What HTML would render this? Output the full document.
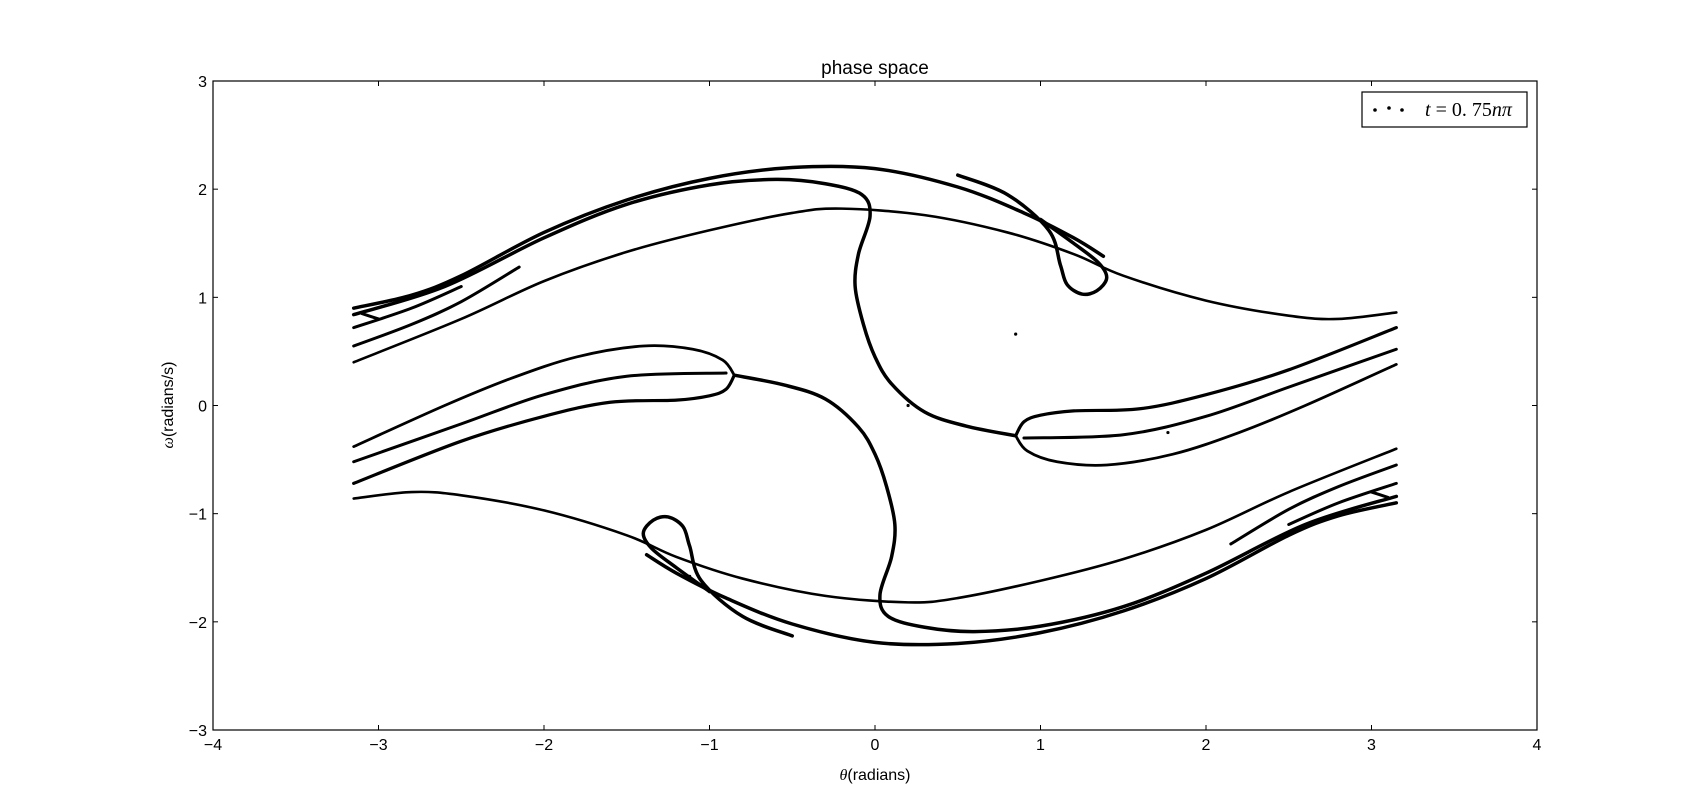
<!DOCTYPE html>
<html><head><meta charset="utf-8"><style>
body{margin:0;background:#fff;}
svg{display:block;font-family:"Liberation Sans","DejaVu Sans",sans-serif;}
</style></head><body>
<svg id="chart" width="1707" height="811" viewBox="0 0 1707 811" xmlns="http://www.w3.org/2000/svg">
<rect width="1707" height="811" fill="#fff"/>
<text x="875" y="74" text-anchor="middle" font-size="19">phase space</text>
<g id="plot"></g>
<rect x="213" y="81" width="1324" height="649" fill="none" stroke="#000" stroke-width="1.2"/>
<g id="ticks"></g>
<text x="875" y="780" text-anchor="middle" font-size="16"><tspan font-family="Liberation Serif, serif" font-style="italic">θ</tspan>(radians)</text>
<text transform="translate(173,405) rotate(-90)" text-anchor="middle" font-size="16"><tspan font-family="Liberation Serif, serif" font-style="italic">ω</tspan>(radians/s)</text>
<g>
<rect x="1362" y="92" width="165" height="35" fill="#fff" stroke="#000" stroke-width="1.2"/>
<circle cx="1375" cy="110" r="1.8" fill="#000"/><circle cx="1389" cy="108" r="1.8" fill="#000"/><circle cx="1402" cy="110" r="1.8" fill="#000"/>
<text x="1425" y="116" font-family="Liberation Serif, serif" font-size="20"><tspan font-style="italic">t</tspan> = 0. 75<tspan font-style="italic">nπ</tspan></text>
</g>
</svg>
<script>
const xTicks=[-4,-3,-2,-1,0,1,2,3,4];
const yTicks=[-3,-2,-1,0,1,2,3];
// upper-half curves [theta, omega]
const curveOuterTop=[[-3.15,0.9],[-2.8,1.02],[-2.5,1.2],[-2,1.6],[-1.5,1.9],[-1,2.1],[-0.5,2.2],[0,2.19],[0.5,2.02],[0.9,1.78],[1.2,1.55],[1.38,1.38]];
const curveSTop=[[-3.15,0.84],[-2.6,1.1],[-2,1.55],[-1.5,1.86],[-1,2.04],[-0.6,2.09],[-0.3,2.05],[-0.08,1.95],[-0.03,1.75],[-0.1,1.4],[-0.12,1.1],[-0.07,0.75],[0.0,0.45],[0.1,0.2],[0.3,-0.06],[0.55,-0.19],[0.85,-0.28]];
const curveHookMid=[[0.85,-0.28],[0.9,-0.15],[1.0,-0.09],[1.2,-0.05],[1.6,-0.03],[2,0.1],[2.5,0.33],[3.15,0.72]];
const curveHookLow=[[0.85,-0.28],[0.92,-0.42],[1.1,-0.52],[1.4,-0.55],[1.8,-0.45],[2.2,-0.25],[2.6,0.0],[3.15,0.38]];
const curveHookInner=[[0.9,-0.3],[1.5,-0.27],[2,-0.1],[2.5,0.17],[3.15,0.52]];
const curveMidTop=[[-3.15,0.4],[-2.5,0.8],[-2,1.15],[-1.5,1.42],[-1,1.62],[-0.5,1.78],[-0.2,1.82],[0.3,1.76],[0.8,1.6],[1.2,1.4],[1.5,1.2],[2,0.97],[2.5,0.83],[2.8,0.8],[3.15,0.86]];
const curveLoopTop=[[0.5,2.13],[0.8,1.95],[1.05,1.62],[1.12,1.3],[1.16,1.12],[1.25,1.03],[1.34,1.06],[1.4,1.18],[1.35,1.32],[1.2,1.5],[1.0,1.72]];
const curveWedgeA=[[-3.15,0.72],[-2.8,0.9],[-2.5,1.1]];
const curveWedgeB=[[-3.15,0.55],[-2.8,0.75],[-2.5,0.96],[-2.15,1.28]];
const curveWedgeC=[[-3.1,0.85],[-3.0,0.8]];
// lower-half curves
const curveOuterBot=[[3.15,-0.9],[2.8,-1.02],[2.5,-1.2],[2,-1.6],[1.5,-1.9],[1,-2.1],[0.5,-2.2],[0,-2.19],[-0.5,-2.02],[-0.9,-1.78],[-1.2,-1.55],[-1.38,-1.38]];
const curveSBot=[[3.15,-0.84],[2.6,-1.1],[2,-1.55],[1.5,-1.86],[1,-2.04],[0.6,-2.09],[0.3,-2.05],[0.08,-1.95],[0.03,-1.75],[0.1,-1.4],[0.12,-1.1],[0.07,-0.75],[0.0,-0.45],[-0.1,-0.2],[-0.3,0.06],[-0.55,0.19],[-0.85,0.28]];
const curveHookMidB=[[-0.85,0.28],[-0.9,0.15],[-1.0,0.09],[-1.2,0.05],[-1.6,0.03],[-2,-0.1],[-2.5,-0.33],[-3.15,-0.72]];
const curveHookLowB=[[-0.85,0.28],[-0.92,0.42],[-1.1,0.52],[-1.4,0.55],[-1.8,0.45],[-2.2,0.25],[-2.6,0.0],[-3.15,-0.38]];
const curveHookInnerB=[[-0.9,0.3],[-1.5,0.27],[-2,0.1],[-2.5,-0.17],[-3.15,-0.52]];
const curveMidBot=[[3.15,-0.4],[2.5,-0.8],[2,-1.15],[1.5,-1.42],[1,-1.62],[0.5,-1.78],[0.2,-1.82],[-0.3,-1.76],[-0.8,-1.6],[-1.2,-1.4],[-1.5,-1.2],[-2,-0.97],[-2.5,-0.83],[-2.8,-0.8],[-3.15,-0.86]];
const curveLoopBot=[[-0.5,-2.13],[-0.8,-1.95],[-1.05,-1.62],[-1.12,-1.3],[-1.16,-1.12],[-1.25,-1.03],[-1.34,-1.06],[-1.4,-1.18],[-1.35,-1.32],[-1.2,-1.5],[-1.0,-1.72]];
const curveWedgeD=[[3.15,-0.72],[2.8,-0.9],[2.5,-1.1]];
const curveWedgeE=[[3.15,-0.55],[2.8,-0.75],[2.5,-0.96],[2.15,-1.28]];
const curveWedgeF=[[3.1,-0.85],[3.0,-0.8]];
const strayPoints=[[0.85,0.66],[1.77,-0.25],[-1.12,-1.58],[0.2,0.0]];

const X0=213,X1=1537,Y0=81,Y1=730;
function sx(v){return X0+(v+4)/8*(X1-X0);}
function sy(v){return Y1-(v+3)/6*(Y1-Y0);}
const NS="http://www.w3.org/2000/svg";
const plot=document.getElementById('plot');
function pathD(pts){
  const p=pts.map(q=>[sx(q[0]),sy(q[1])]);
  let d='M'+p[0][0]+','+p[0][1];
  for(let i=0;i<p.length-1;i++){
    const a=p[Math.max(i-1,0)],b=p[i],c=p[i+1],e=p[Math.min(i+2,p.length-1)];
    const c1=[b[0]+(c[0]-a[0])/6,b[1]+(c[1]-a[1])/6],c2=[c[0]-(e[0]-b[0])/6,c[1]-(e[1]-b[1])/6];
    d+=' C'+c1[0]+','+c1[1]+' '+c2[0]+','+c2[1]+' '+c[0]+','+c[1];
  }
  return d;
}
function draw(pts,w,name){
  const el=document.createElementNS(NS,'path');
  el.setAttribute('d',pathD(pts));
  el.setAttribute('fill','none');el.setAttribute('stroke','#000');
  el.setAttribute('stroke-width',w);el.setAttribute('stroke-linecap','round');el.setAttribute('stroke-linejoin','round');
  
  
  plot.appendChild(el);
}
draw(curveOuterTop,3.5,'curve-outer-top');draw(curveOuterBot,3.5,'curve-outer-bottom');
draw(curveSTop,3.5,'curve-s-top');draw(curveSBot,3.5,'curve-s-bottom');
draw(curveHookMid,3.2,'curve-hook-mid');draw(curveHookMidB,3.2,'curve-hook-mid-b');
draw(curveHookLow,2.8,'curve-hook-low');draw(curveHookLowB,2.8,'curve-hook-low-b');
draw(curveHookInner,3,'curve-hook-inner');draw(curveHookInnerB,3,'curve-hook-inner-b');
draw(curveMidTop,2.6,'curve-mid-top');draw(curveMidBot,2.6,'curve-mid-bottom');
draw(curveLoopTop,3.5,'curve-loop-top');draw(curveLoopBot,3.5,'curve-loop-bottom');
draw(curveWedgeA,3,'wedge-a');draw(curveWedgeB,3,'wedge-b');draw(curveWedgeC,3,'wedge-c');
draw(curveWedgeD,3,'wedge-d');draw(curveWedgeE,3,'wedge-e');draw(curveWedgeF,3,'wedge-f');
strayPoints.forEach(p=>{
  const c=document.createElementNS(NS,'circle');
  c.setAttribute('cx',sx(p[0]));c.setAttribute('cy',sy(p[1]));c.setAttribute('r',1.6);
  
  
  plot.appendChild(c);
});
const tg=document.getElementById('ticks');
function line(x1,y1,x2,y2){const l=document.createElementNS(NS,'line');l.setAttribute('x1',x1);l.setAttribute('y1',y1);l.setAttribute('x2',x2);l.setAttribute('y2',y2);l.setAttribute('stroke','#000');
tg.appendChild(l);}
function txt(x,y,s,anchor,name){const t=document.createElementNS(NS,'text');t.setAttribute('x',x);t.setAttribute('y',y);t.setAttribute('font-size','16');t.setAttribute('text-anchor',anchor);t.textContent=s;
tg.appendChild(t);}
xTicks.forEach(v=>{const x=sx(v);line(x,Y1,x,Y1-5);line(x,Y0,x,Y0+5);txt(x,Y1+20,(v<0?'\u2212':'')+Math.abs(v),'middle','x-tick-label');});
yTicks.forEach(v=>{const y=sy(v);line(X0,y,X0+5,y);line(X1,y,X1-5,y);txt(X0-6,y+6,(v<0?'\u2212':'')+Math.abs(v),'end','y-tick-label');});
</script>
</body></html>
